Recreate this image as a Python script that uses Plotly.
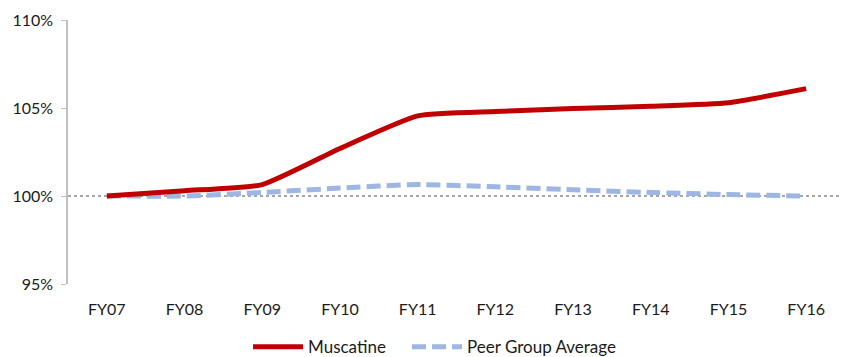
import plotly.graph_objects as go

categories = ["FY07", "FY08", "FY09", "FY10", "FY11", "FY12", "FY13", "FY14", "FY15", "FY16"]
muscatine = [100.0, 100.3, 100.65, 102.7, 104.55, 104.8, 104.97, 105.1, 105.3, 106.1]
peer_avg = [100.0, 100.0, 100.2, 100.45, 100.65, 100.52, 100.35, 100.2, 100.08, 100.0]
y_ticks = [95, 100, 105, 110]
y_tick_labels = ["95%", "100%", "105%", "110%"]

font_family = "Lato, 'Open Sans', sans-serif"

fig = go.Figure()
fig.add_trace(go.Scatter(
    x=categories, y=peer_avg, mode="lines", name="Peer Group Average", legend="legend2",
    line=dict(color="#9DB6E3", width=5, dash="14px,6px", shape="spline", smoothing=0.5),
))
fig.add_trace(go.Scatter(
    x=categories, y=muscatine, mode="lines", name="Muscatine", legend="legend",
    line=dict(color="#C00000", width=5, shape="spline", smoothing=0.5),
))

fig.add_shape(type="line", xref="paper", yref="y", x0=0, x1=1, y0=100, y1=100,
              line=dict(color="#A6A6A6", width=2, dash="dot"), layer="below")

legend_common = dict(orientation="h", y=-0.239, yanchor="middle", xanchor="left",
                     font=dict(size=17), itemwidth=50, bgcolor="rgba(0,0,0,0)")

# page body has a default 8px margin, so the figure is sized/offset to compensate
fig.update_layout(
    width=839, height=349,
    margin=dict(l=60, r=2, t=12, b=73, autoexpand=False),
    paper_bgcolor="white", plot_bgcolor="white",
    font=dict(family=font_family, size=16, color="#1a1a1a"),
    showlegend=True,
    legend=dict(x=0.2317, **legend_common),
    legend2=dict(x=0.4363, **legend_common),
    xaxis=dict(type="category", showgrid=False, zeroline=False, showline=False,
               ticks="", tickfont=dict(size=16), range=[-0.5, 9.5],
               ticklabelstandoff=14, automargin=False),
    yaxis=dict(range=[95, 110], tickvals=y_ticks, ticktext=y_tick_labels,
               showgrid=False, zeroline=False, showline=True, linecolor="#BFBFBF",
               linewidth=1.5, ticks="outside", ticklen=5, tickcolor="#BFBFBF",
               tickfont=dict(size=16), automargin=False, ticklabelstandoff=5),
)

fig.write_html("out.html")
